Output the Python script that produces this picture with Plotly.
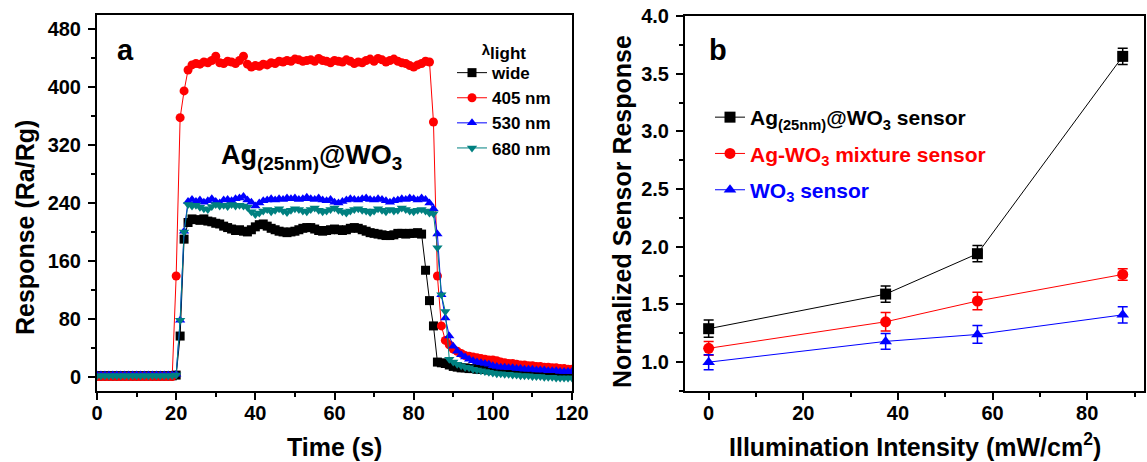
import plotly.graph_objects as go

# ---------------- Panel a data ----------------
time_s = list(range(0, 121))

wide = [1]*20 + [2, 56, 190, 213, 218, 217, 216, 218, 215, 214,
        212, 211, 208, 206, 204, 202, 203, 201, 200, 203,
        207, 210, 211, 208, 205, 203, 201, 200, 199, 200,
        201, 203, 205, 206, 206, 204, 202, 201, 202, 203,
        204, 203, 202, 203, 205, 206, 205, 203, 201, 199,
        198, 197, 196, 195, 195, 196, 198, 198, 197, 198,
        198, 199, 197, 147, 105, 70, 20, 19, 18, 16,
        14, 13, 12, 12, 11, 11, 10, 10, 10, 9,
        9, 9, 8, 8, 8, 8, 8, 7, 7, 7,
        7, 7, 7, 6, 6, 6, 6, 6, 6, 5, 5]

nm405 = [0]*20 + [139, 358, 395, 424, 431, 433, 432, 435, 434, 437,
         443, 434, 433, 436, 435, 433, 437, 443, 432, 428,
         430, 429, 432, 431, 434, 433, 436, 435, 437, 436,
         439, 438, 436, 437, 438, 436, 440, 437, 436, 434,
         437, 436, 435, 438, 436, 433, 435, 434, 437, 439,
         436, 440, 438, 435, 437, 439, 436, 434, 433, 430,
         428, 431, 433, 436, 435, 352, 139, 70, 50, 44,
         38, 35, 32, 29, 28, 27, 26, 25, 24, 23,
         23, 22, 20, 19, 18, 18, 17, 16, 16, 15,
         15, 14, 14, 13, 13, 12, 12, 11, 11, 10, 10]

nm530 = [2]*20 + [3, 78, 201, 242, 245, 242, 244, 241, 243, 246,
         242, 240, 244, 245, 243, 246, 247, 249, 244, 241,
         236, 240, 243, 244, 246, 244, 246, 245, 247, 246,
         247, 245, 246, 248, 246, 245, 247, 244, 243, 245,
         241, 240, 242, 244, 246, 245, 244, 246, 247, 245,
         244, 246, 245, 243, 241, 243, 244, 246, 245, 247,
         246, 244, 247, 245, 240, 232, 197, 113, 81, 56,
         42, 35, 30, 27, 24, 22, 20, 19, 18, 17,
         15, 14, 13, 13, 12, 12, 11, 11, 10, 10,
         10, 9, 9, 9, 8, 8, 8, 7, 7, 7, 7]

nm680 = [1]*20 + [2, 78, 200, 238, 236, 237, 234, 232, 231, 235,
         238, 236, 237, 235, 238, 236, 237, 236, 234, 228,
         224, 226, 229, 231, 228, 230, 232, 229, 227, 230,
         232, 231, 229, 228, 231, 233, 230, 228, 229, 231,
         233, 230, 228, 226, 229, 231, 232, 230, 229, 227,
         229, 232, 230, 228, 231, 229, 230, 233, 231, 229,
         228, 230, 231, 229, 226, 225, 178, 113, 90, 24,
         20, 17, 15, 13, 12, 10, 9, 8, 7, 6,
         5, 4, 4, 3, 3, 2, 2, 1, 1, 1,
         0, 0, 0, -1, -1, -1, -2, -2, -2, -2, -2]

series_a_names = ["wide", "405 nm", "530 nm", "680 nm"]

# ---------------- Panel b data ----------------
intensity = [0, 37.4, 56.8, 87.5]
ag_core = [1.29, 1.59, 1.94, 3.65]
ag_core_err = [0.075, 0.07, 0.07, 0.07]
ag_mix = [1.12, 1.35, 1.53, 1.76]
ag_mix_err = [0.06, 0.08, 0.075, 0.05]
wo3 = [1.00, 1.18, 1.24, 1.41]
wo3_err = [0.065, 0.068, 0.077, 0.07]

FONT = "Liberation Sans, Arial, sans-serif"
BLACK, RED, BLUE, TEAL = "#000000", "#FF0000", "#0000FF", "#008080"

fig = go.Figure()

a_series = [wide, nm405, nm530, nm680]
a_colors = [BLACK, RED, BLUE, TEAL]
a_symbols = ["square", "circle", "triangle-up", "triangle-down"]
for i, (ys, c, s, n) in enumerate(zip(a_series, a_colors, a_symbols, series_a_names)):
    fig.add_trace(go.Scatter(
        x=time_s, y=ys, mode="lines+markers", name="<b>%s</b>" % n,
        line=dict(color=c, width=1),
        marker=dict(symbol=s, size=9, color=c, line=dict(width=0)),
        xaxis="x", yaxis="y", legend="legend", legendgroup="a%d" % i,
    ))

b_sets = [
    (ag_core, ag_core_err, BLACK, "square", "Ag<sub>(25nm)</sub>@WO<sub>3</sub> sensor"),
    (ag_mix, ag_mix_err, RED, "circle", "Ag-WO<sub>3</sub> mixture sensor"),
    (wo3, wo3_err, BLUE, "triangle-up", "WO<sub>3</sub> sensor"),
]
for i, (ys, es, c, s, n) in enumerate(b_sets):
    fig.add_trace(go.Scatter(
        x=intensity, y=ys, mode="lines+markers",
        name="<span style='color:%s'><b>%s</b></span>" % (c, n),
        line=dict(color=c, width=1),
        marker=dict(symbol=s, size=11, color=c, line=dict(width=0)),
        error_y=dict(type="data", array=es, color=c, thickness=1.5, width=5),
        xaxis="x2", yaxis="y2", legend="legend2", legendgroup="b%d" % i,
    ))

axis_common = dict(
    showline=True, linecolor="black", linewidth=2, mirror=True,
    ticks="outside", ticklen=7, tickwidth=2, tickcolor="black",
    showgrid=False, zeroline=False, automargin=False,
    tickprefix="<b>", ticksuffix="</b>",
    tickfont=dict(family=FONT, size=20, color="black"),
)
minor_common = dict(ticks="outside", ticklen=4, tickwidth=1.5, tickcolor="black")

fig.update_layout(
    width=1147, height=462,
    margin=dict(l=0, r=0, t=0, b=0, autoexpand=False),
    paper_bgcolor="white", plot_bgcolor="white",
    font=dict(family=FONT, color="black"),
    xaxis=dict(domain=[97/1147, 572/1147], anchor="y", range=[0, 120],
               tick0=0, dtick=20, ticklabelstandoff=-4,
               minor=dict(dtick=10, **minor_common), **axis_common),
    yaxis=dict(domain=[1-391/462, 1-15/462], anchor="x", range=[-20, 500],
               tick0=0, dtick=80, ticklabelstandoff=3,
               minor=dict(dtick=40, **minor_common), **axis_common),
    yaxis3=dict(overlaying="y", anchor="x", side="right", range=[0, 10], dtick=1,
                ticks="inside", ticklen=5, tickwidth=1.5, tickcolor="black",
                showticklabels=False, showline=False, showgrid=False, zeroline=False,
                automargin=False),
    xaxis2=dict(domain=[685/1147, 1144/1147], anchor="y2", range=[-5, 92],
                tick0=0, dtick=20, ticklabelstandoff=-4,
                minor=dict(dtick=10, **minor_common), **axis_common),
    yaxis2=dict(domain=[1-391/462, 1-16/462], anchor="x2", range=[0.75, 4.0],
                tick0=0, dtick=0.5, tickformat=".1f", ticklabelstandoff=3,
                minor=dict(dtick=0.25, **minor_common), **axis_common),
    legend=dict(
        x=452/1147, y=1-33/462, xanchor="left", yanchor="top",
        bgcolor="rgba(0,0,0,0)", borderwidth=0,
        font=dict(family=FONT, size=17, color="black"),
        title=dict(text="<b><span style='font-size:15px'>λ</span><sub><span style='font-size:17px'>light</span></sub></b>",
                   side="top center",
                   font=dict(family=FONT, size=17, color="black")),
        tracegroupgap=0, itemwidth=30,
    ),
    legend2=dict(
        x=710/1147, y=1-97/462, xanchor="left", yanchor="top",
        bgcolor="rgba(0,0,0,0)", borderwidth=0,
        font=dict(family=FONT, size=21, color="black"),
        tracegroupgap=6, itemwidth=30,
    ),
    showlegend=True,
)

ann = [
    dict(text="a", x=125, y=50, size=29),
    dict(text="b", x=718, y=50, size=29),
    dict(text="Ag<sub>(25nm)</sub>@WO<sub>3</sub>", x=311, y=157, size=27),
    dict(text="Time (s)", x=334, y=447, size=25),
    dict(text="Illumination Intensity (mW/cm<sup>2</sup>)", x=915, y=445, size=25),
]
for a in ann:
    fig.add_annotation(text="<b>%s</b>" % a["text"], x=a["x"]/1147, y=1-a["y"]/462,
                       xref="paper", yref="paper",
                       xanchor="center", yanchor="middle", showarrow=False,
                       font=dict(family=FONT, size=a["size"], color="black"))
for txt, x, y in [("Response (Ra/Rg)", 25, 228), ("Normalized Sensor Response", 622, 212)]:
    fig.add_annotation(text="<b>%s</b>" % txt, x=x/1147, y=1-y/462, xref="paper", yref="paper",
                       xanchor="center", yanchor="middle", showarrow=False, textangle=-90,
                       font=dict(family=FONT, size=25, color="black"))

fig.write_html("out.html")
